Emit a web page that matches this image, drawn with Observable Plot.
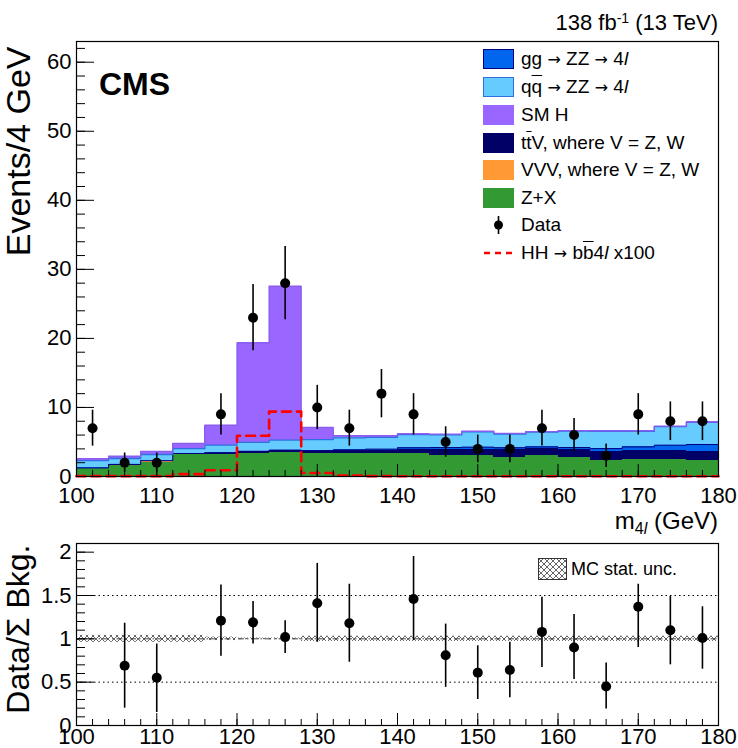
<!DOCTYPE html>
<html><head><meta charset="utf-8">
<script src="https://cdn.jsdelivr.net/npm/d3@7"></script>
<script src="https://cdn.jsdelivr.net/npm/@observablehq/plot@0.6"></script>
<style>
body{margin:0;background:#fff;font-family:"Liberation Sans",Arial,sans-serif;}
#wrap{position:relative;width:738px;height:748px;overflow:hidden;}
.ov{position:absolute;white-space:nowrap;color:#000;line-height:1;}
.lg{position:absolute;left:483px;font-size:19px;}
.box{position:absolute;left:0;width:31px;height:20px;box-sizing:border-box;}
.lt{position:absolute;left:38px;white-space:nowrap;}
.ob{text-decoration:overline;}
.ar{font-family:"DejaVu Sans",sans-serif;font-size:16px;}
</style></head><body>
<svg width="0" height="0" style="position:absolute"><defs>
<pattern id="xh" width="6" height="6" patternUnits="userSpaceOnUse"><rect width="6" height="6" fill="#fff"/><path d="M0,0L6,6M6,0L0,6" stroke="#555" stroke-width="0.9"/></pattern>
</defs></svg>
<div id="wrap"></div>
<script>
// ---- data ----
const binLow = [100,104,108,112,116,120,124,128,132,136,140,144,148,152,156,160,164,168,172,176];
const zxBkg  = [1.10,1.60,2.10,3.15,3.25,3.35,3.45,3.30,3.30,3.30,3.30,3.10,3.00,2.80,3.00,2.70,2.35,2.50,2.50,2.25];
const vvvBkg = [0.005,0.005,0.005,0.005,0.005,0.005,0.005,0.005,0.005,0.005,0.005,0.005,0.005,0.005,0.005,0.005,0.005,0.005,0.005,0.005];
const ttvBkg = [0.08,0.10,0.12,0.12,0.13,0.20,0.25,0.30,0.40,0.48,0.55,0.78,0.95,1.05,0.98,1.15,1.30,1.33,1.33,1.43];
const ggBkg  = [0.05,0.05,0.06,0.06,0.07,0.10,0.12,0.15,0.15,0.18,0.30,0.30,0.30,0.30,0.30,0.33,0.38,0.45,0.70,0.95];
const qqBkg  = [1.05,0.85,0.90,0.70,1.10,1.30,1.45,1.60,1.75,1.70,1.90,1.85,2.20,2.00,2.15,2.40,2.50,2.25,2.70,3.20];
const smhBkg = [0.30,0.33,0.45,0.75,2.90,14.40,22.30,1.75,0.30,0.22,0.12,0.10,0.10,0.08,0.07,0.07,0.06,0.06,0.06,0.06];
const hhSig  = [0.05,0.05,0.05,0.35,0.90,5.90,9.40,0.50,0.15,0.05,0.03,0.03,0.03,0.03,0.03,0.03,0.03,0.03,0.03,0.03];
const dataX   = [102,106,110,114,118,122,126,130,134,138,142,146,150,154,158,162,166,170,174,178];
const dataN   = [7,2,2,0,9,23,28,10,7,12,9,5,4,4,7,6,3,9,8,8];
const dataErr = [2.6,1.4,1.4,0,3.0,4.8,5.3,3.2,2.6,3.5,3.0,2.2,2.0,2.0,2.6,2.4,1.7,3.0,2.8,2.8];
const ratioX  = [106,110,118,122,126,130,134,142,146,150,154,158,162,166,170,174,178];
const ratioV  = [0.69,0.55,1.21,1.19,1.02,1.41,1.18,1.46,0.81,0.61,0.64,1.08,0.90,0.45,1.37,1.10,1.01];
const ratioLo = [0.20,0.15,0.80,0.94,0.83,0.96,0.73,0.98,0.44,0.30,0.32,0.67,0.53,0.19,0.90,0.70,0.65];
const ratioHi = [1.18,0.94,1.62,1.43,1.21,1.87,1.63,1.95,1.17,0.92,0.96,1.48,1.28,0.72,1.63,1.49,1.37];
const mcUnc   = [0.04,0.04,0.04,0.04,0.02,0.01,0.01,0.03,0.03,0.03,0.03,0.03,0.03,0.03,0.03,0.03,0.03,0.03,0.03,0.03];
const xTicks = [100,110,120,130,140,150,160,170,180];
const yTicks = [0,10,20,30,40,50,60];
const rTicks = [0,0.5,1,1.5,2];
const compNames  = ["Z+X","VVV","ttV","gg","qq","SMH"];
const compColors = ["#339933","#ff9933","#000066","#0066ee","#66ccff","#9966ff"];
const binW = 4;

// ---- derived tables ----
const series = [zxBkg, vvvBkg, ttvBkg, ggBkg, qqBkg, smhBkg];
const stackRows = compNames.flatMap((c, ci) => binLow.map((b, i) => ({c, x1: b, x2: b + binW, v: series[ci][i]})));
function cumTop(k){ return binLow.map((b,i)=> series.slice(0,k+1).reduce((s,a)=>s+a[i],0)); }
function stepPts(vals){ const p = binLow.map((b,i)=>({x:b, y:vals[i]})); p.push({x: binLow[binLow.length-1]+binW, y: vals[vals.length-1]}); return p; }
const dataRows = dataX.map((x,i)=>({x, n: dataN[i], e: dataErr[i]})).filter(d => d.n > 0);
const ratioRows = ratioX.map((x,i)=>({x, v: ratioV[i], lo: ratioLo[i], hi: ratioHi[i]}));
const uncRows = binLow.map((b,i)=>({x1:b, x2:b+binW, y1:1-mcUnc[i], y2:1+mcUnc[i]}));

const FONT = '"Liberation Sans", Arial, sans-serif';
const minorX = d3.range(100, 181, 2);
const minorY = d3.range(0, 63, 2);
const minorR = d3.range(0, 21, 1).map(d => d/10);

const main = Plot.plot({
  width: 738, height: 531,
  marginLeft: 76, marginRight: 20, marginTop: 41, marginBottom: 55,
  style: {fontFamily: FONT, fontSize: "22px", background: "white"},
  x: {domain: [100, 180]},
  y: {domain: [0, 63]},
  color: {domain: compNames, range: compColors},
  marks: [
    Plot.rectY(stackRows, {x1: "x1", x2: "x2", y: "v", fill: "c", order: compNames, shapeRendering: "crispEdges"}),
    Plot.lineY(stepPts(cumTop(3)), {x: "x", y: "y", curve: "step-after", stroke: "#000080", strokeWidth: 1}),
    Plot.lineY(stepPts(cumTop(4)), {x: "x", y: "y", curve: "step-after", stroke: "#2f6fe0", strokeWidth: 1.3}),
    Plot.lineY(stepPts(cumTop(5)), {x: "x", y: "y", curve: "step-after", stroke: "#8a5cf0", strokeWidth: 1.3}),
    Plot.lineY(stepPts(hhSig), {x: "x", y: "y", curve: "step-after", stroke: "#ff0000", strokeWidth: 2.6, strokeDasharray: "9,6"}),
    Plot.ruleX(dataRows, {x: "x", y1: d => d.n - d.e, y2: d => d.n + d.e, stroke: "black", strokeWidth: 1.6}),
    Plot.dot(dataRows, {x: "x", y: "n", r: 5, fill: "black", stroke: "none"}),
    Plot.axisX({ticks: minorX, tickSize: -6, fill: "none", label: null}),
    Plot.axisX({ticks: xTicks, tickSize: -12, fill: "none", label: null}),
    Plot.axisX({ticks: xTicks, tickSize: 0, tickPadding: 11, fontSize: 22, label: null}),
    Plot.axisY({ticks: minorY, tickSize: -9, fill: "none", label: null}),
    Plot.axisY({ticks: yTicks, tickSize: -18, fill: "none", label: null}),
    Plot.axisY({ticks: yTicks, tickSize: 0, tickPadding: 5, fontSize: 22, label: null}),
    Plot.text(["Events/4 GeV"], {frameAnchor: "top-left", rotate: -90, textAnchor: "end", dx: -71, dy: 5, fontSize: 34}),
    Plot.frame({stroke: "black", strokeWidth: 1.2})
  ]
});

const ratio = Plot.plot({
  width: 738, height: 217,
  marginLeft: 76, marginRight: 20, marginTop: 12, marginBottom: 23,
  style: {fontFamily: FONT, fontSize: "22px", background: "white"},
  x: {domain: [100, 180]},
  y: {domain: [0, 2.1]},
  marks: [
    Plot.rect(uncRows, {x1: "x1", x2: "x2", y1: "y1", y2: "y2", fill: "url(#xh)"}),
    Plot.ruleY([0.5, 1.5], {stroke: "black", strokeWidth: 1, strokeDasharray: "1.5,3"}),
    Plot.ruleY([1], {stroke: "#444", strokeWidth: 1, strokeDasharray: "6,3,1.5,3"}),
    Plot.ruleX(ratioRows, {x: "x", y1: "lo", y2: "hi", stroke: "black", strokeWidth: 1.6}),
    Plot.dot(ratioRows, {x: "x", y: "v", r: 5, fill: "black", stroke: "none"}),
    Plot.axisX({ticks: minorX, tickSize: -6, fill: "none", label: null}),
    Plot.axisX({ticks: xTicks, tickSize: 0, tickPadding: 3, fontSize: 22, label: null}),
    Plot.axisX({ticks: xTicks, tickSize: -12, fill: "none", label: null}),
    Plot.axisY({ticks: minorR, tickSize: -9, fill: "none", label: null}),
    Plot.axisY({ticks: rTicks, tickSize: -18, fill: "none", label: null}),
    Plot.axisY({ticks: rTicks, tickSize: 0, tickPadding: 5, fontSize: 22, label: null, tickFormat: d => String(d)}),
    Plot.text(["Data/\u03A3 Bkg."], {frameAnchor: "top-left", rotate: -90, textAnchor: "end", dx: -70, dy: 1, fontSize: 32}),
    Plot.frame({stroke: "black", strokeWidth: 1.2})
  ]
});

const wrap = document.getElementById("wrap");
main.style.display = "block"; ratio.style.display = "block";
wrap.appendChild(main);
wrap.appendChild(ratio);

// overlays: texts and legends
function ov(html, css){ const d = document.createElement("div"); d.className = "ov"; d.innerHTML = html; Object.assign(d.style, css); wrap.appendChild(d); return d; }
ov('138 fb<sup style="font-size:14px;vertical-align:7px">-1</sup> (13 TeV)', {right: "20px", top: "11px", fontSize: "22px"});
ov('CMS', {left: "99px", top: "68px", fontSize: "32px", fontWeight: "bold"});
ov('m<sub style="font-size:16px;vertical-align:-5px">4<i>l</i></sub> (GeV)', {right: "20px", top: "509px", fontSize: "24px"});

const AR = '<span class="ar">&rarr;</span>';
const legendRows = [
  {y: 59, box: ["#0066ee", "#000080"], html: `gg ${AR} ZZ ${AR} 4<i>l</i>`},
  {y: 87, box: ["#66ccff", "#2f6fe0"], html: `q<span class="ob">q</span> ${AR} ZZ ${AR} 4<i>l</i>`},
  {y: 115, box: ["#9966ff", "#9966ff"], html: 'SM H'},
  {y: 143, box: ["#000066", "#000066"], html: 't<span class="ob">t</span>V, where V = Z, W'},
  {y: 170, box: ["#ff9933", "#ff9933"], html: 'VVV, where V = Z, W'},
  {y: 198, box: ["#339933", "#339933"], html: 'Z+X'},
  {y: 225, marker: "data", html: 'Data'},
  {y: 253, marker: "hh", html: `HH ${AR} b<span class="ob">b</span>4<i>l</i> x100`}
];
for (const r of legendRows) {
  const g = document.createElement("div");
  g.className = "lg"; g.style.top = (r.y - 10) + "px"; g.style.height = "20px";
  let sym = "";
  if (r.box) sym = `<div class="box" style="background:${r.box[0]};border:1.5px solid ${r.box[1]}"></div>`;
  else if (r.marker === "data") sym = `<svg style="position:absolute;left:0;top:0" width="31" height="20"><line x1="15.5" x2="15.5" y1="1" y2="19" stroke="black" stroke-width="1.6"/><circle cx="15.5" cy="10" r="4.5" fill="black"/></svg>`;
  else sym = `<svg style="position:absolute;left:0;top:0" width="31" height="20"><line x1="1" x2="31" y1="10" y2="10" stroke="#ff0000" stroke-width="2.6" stroke-dasharray="6,5"/></svg>`;
  g.innerHTML = sym + `<div class="lt" style="top:0px;line-height:20px">${r.html}</div>`;
  wrap.appendChild(g);
}
// ratio legend
ov('<svg width="29" height="22" style="vertical-align:middle"><rect x="0.5" y="0.5" width="28" height="21" fill="url(#xh)" stroke="#333"/></svg><span style="vertical-align:middle;margin-left:4px">MC stat. unc.</span>', {left: "538px", top: "558px", fontSize: "18px"});
</script>
</body></html>
